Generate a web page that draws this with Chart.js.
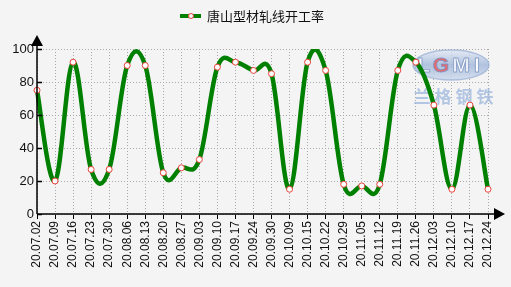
<!DOCTYPE html>
<html>
<head>
<meta charset="utf-8">
<script src="https://cdn.jsdelivr.net/npm/chart.js@4"></script>
<style>
  html, body { margin: 0; padding: 0; background: #f4f4f4; }
  #wrap { width: 511px; height: 287px; }
</style>
</head>
<body>
<div id="wrap"><canvas id="chart" width="511" height="287"></canvas></div>
<script>
const dates = ['20.07.02','20.07.09','20.07.16','20.07.23','20.07.30','20.08.06','20.08.13','20.08.20','20.08.27',
  '20.09.03','20.09.10','20.09.17','20.09.24','20.09.30','20.10.09','20.10.15','20.10.22','20.10.29',
  '20.11.05','20.11.12','20.11.19','20.11.26','20.12.03','20.12.10','20.12.17','20.12.24'];
const rates = [75, 20, 92, 27, 27, 90, 90, 25, 28, 33, 89, 92, 87, 85, 15, 92, 87, 18, 17, 18, 87, 92, 66, 15, 66, 15];
const seriesName = '唐山型材轧线开工率';
const yTicks = [0, 20, 40, 60, 80, 100];

// even-weighted spline (the reference curve overshoots like a plain Catmull-Rom)
const smooth = {
  id: 'smooth',
  afterDatasetsUpdate(chart) {
    const meta = chart.getDatasetMeta(0);
    const pts = meta.data;
    const k = 0.18;
    pts.forEach((p, i) => {
      const prev = pts[i - 1] || p;
      const next = pts[i + 1] || p;
      const dx = next.x - prev.x, dy = next.y - prev.y;
      p.cp1x = p.x - k * dx;
      p.cp1y = p.y - k * dy;
      p.cp2x = p.x + k * dx;
      p.cp2y = p.y + k * dy;
    });
    meta.dataset._pointsUpdated = true;
    meta.dataset._path = undefined;
  }
};

// axes arrows, legend and watermark
const decor = {
  id: 'decor',
  beforeDatasetsDraw(chart) {
    const c = chart.ctx;
    c.save();
    const g = c.createLinearGradient(0, 50, 0, 80);
    g.addColorStop(0, 'rgba(225,232,244,0.8)');
    g.addColorStop(0.5, 'rgba(160,182,218,0.8)');
    g.addColorStop(1, 'rgba(205,216,236,0.8)');
    c.fillStyle = g;
    c.strokeStyle = 'rgba(150,172,210,0.7)';
    c.lineWidth = 1.5;
    c.beginPath();
    c.ellipse(451, 65, 38, 15, 0, 0, Math.PI * 2);
    c.fill();
    c.stroke();
    c.font = 'bold 21px "Liberation Sans", Arial';
    c.textAlign = 'center';
    c.textBaseline = 'middle';
    c.lineWidth = 1;
    const logo = [['L', 424, '#ffffff'], ['G', 441, '#e86a70'], ['M', 461, '#ffffff'], ['I', 477, '#ffffff']];
    logo.forEach(([ch, x, col]) => {
      c.fillStyle = col;
      c.fillText(ch, x, 66);
      c.strokeStyle = 'rgba(120,145,190,0.8)';
      c.strokeText(ch, x, 66);
    });
    c.font = 'bold 17px "Noto Sans CJK SC"';
    c.fillStyle = 'rgba(150,176,220,0.7)';
    const chars = '兰格钢铁';
    for (let i = 0; i < chars.length; i++) c.fillText(chars[i], 422 + i * 21, 97);
    c.restore();
  },
  afterDraw(chart) {
    const c = chart.ctx;
    const a = chart.chartArea;
    const ys = chart.scales.y;
    c.save();
    c.strokeStyle = '#000';
    c.fillStyle = '#000';
    c.lineWidth = 1.5;
    c.beginPath();
    c.moveTo(a.left, a.bottom);
    c.lineTo(a.left, a.top - 6);
    c.moveTo(a.left, a.bottom);
    c.lineTo(a.right + 8, a.bottom);
    yTicks.forEach(v => {
      const y = Math.round(ys.getPixelForValue(v)) + 0.5;
      c.moveTo(a.left, y);
      c.lineTo(a.left + 5, y);
    });
    c.stroke();
    c.beginPath();
    c.moveTo(a.left, a.top - 14);
    c.lineTo(a.left - 6, a.top - 3);
    c.lineTo(a.left + 6, a.top - 3);
    c.closePath();
    c.fill();
    c.beginPath();
    c.moveTo(a.right + 17, a.bottom);
    c.lineTo(a.right + 6, a.bottom - 6);
    c.lineTo(a.right + 6, a.bottom + 6);
    c.closePath();
    c.fill();

    // legend
    const lx = 180, ly = 16;
    c.strokeStyle = '#008000';
    c.lineWidth = 4;
    c.beginPath();
    c.moveTo(lx, ly);
    c.lineTo(lx + 21, ly);
    c.stroke();
    c.fillStyle = '#fff';
    c.strokeStyle = '#e8403a';
    c.lineWidth = 1;
    c.beginPath();
    c.arc(lx + 11, ly, 2.5, 0, Math.PI * 2);
    c.fill();
    c.stroke();
    c.fillStyle = '#111';
    c.font = '13px "Noto Sans CJK SC"';
    c.textAlign = 'left';
    c.textBaseline = 'middle';
    c.fillText(seriesName, lx + 27, ly);
    c.restore();
  }
};

new Chart(document.getElementById('chart'), {
  type: 'line',
  data: {
    labels: dates,
    datasets: [{
      label: seriesName,
      data: rates,
      borderColor: '#008000',
      borderWidth: 4.5,
      tension: 0.4,
      pointRadius: 3,
      pointBackgroundColor: '#fff',
      pointBorderColor: '#e8403a',
      pointBorderWidth: 1
    }]
  },
  options: {
    responsive: false,
    animation: false,
    layout: { padding: { top: 49, right: 23, bottom: 0, left: 0 } },
    plugins: { legend: { display: false }, tooltip: { enabled: false } },
    scales: {
      x: {
        offset: false,
        grid: { color: '#a8a8a8', tickLength: 5, tickColor: '#000', lineWidth: 1 },
        border: { display: false, dash: [1, 2] },
        ticks: {
          minRotation: 90, maxRotation: 90, autoSkip: false, color: '#111',
          font: { family: '"Liberation Sans", Arial', size: 12 }, padding: 2
        },
        afterFit(s) { s.height = 73; }
      },
      y: {
        min: 0, max: 100,
        afterBuildTicks(s) { s.ticks = yTicks.map(v => ({ value: v })); },
        grid: { color: '#a8a8a8', tickLength: 2, tickColor: 'rgba(0,0,0,0)' },
        border: { display: false, dash: [1, 2] },
        ticks: { color: '#111', font: { family: '"Liberation Sans", Arial', size: 13 }, padding: 1 },
        afterFit(s) { s.width = 37; }
      }
    }
  },
  plugins: [smooth, decor]
});
</script>
</body>
</html>
